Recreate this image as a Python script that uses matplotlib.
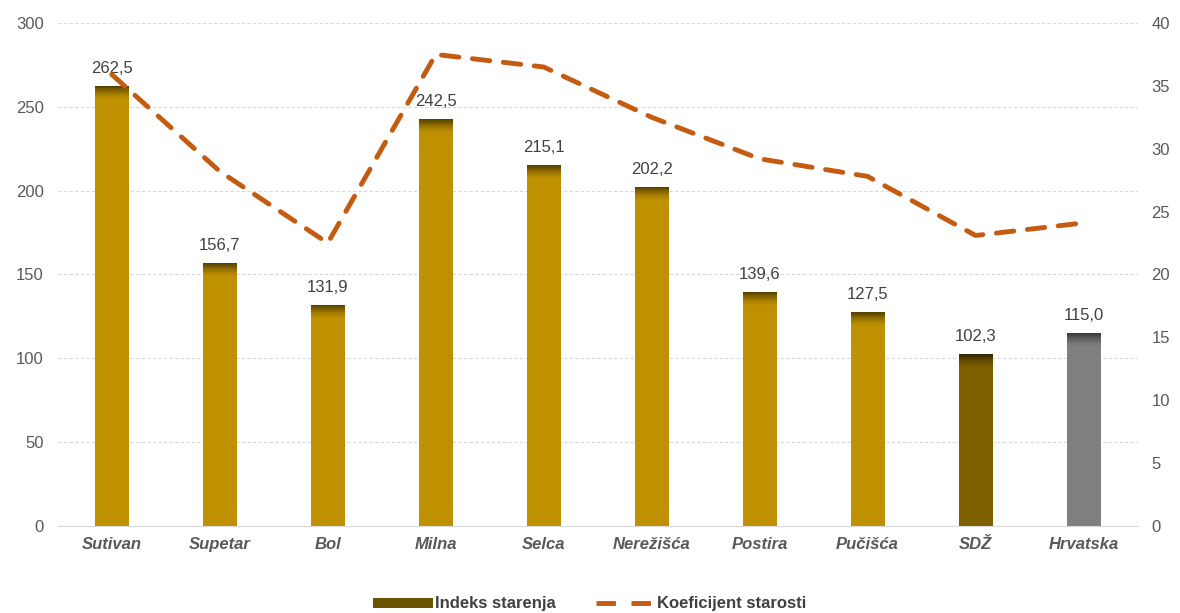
import matplotlib
matplotlib.use("Agg")
import matplotlib.pyplot as plt
from matplotlib.lines import Line2D
from matplotlib.patches import Patch

plt.rcParams["font.family"] = ["Liberation Sans", "DejaVu Sans"]

categories = ["Sutivan", "Supetar", "Bol", "Milna", "Selca", "Nerežišća",
              "Postira", "Pučišća", "SDŽ", "Hrvatska"]
indeks_starenja = [262.5, 156.7, 131.9, 242.5, 215.1, 202.2, 139.6, 127.5, 102.3, 115.0]
koef_starosti = [35.9, 28.2, 22.5, 37.5, 36.5, 32.5, 29.2, 27.8, 23.1, 24.1]
bar_colors = ["#BF9000"] * 8 + ["#7F6000", "#7F7F7F"]
top_colors = ["#4A3A00"] * 8 + ["#2E2300", "#333333"]

fig = plt.figure(figsize=(11.8, 6.13), dpi=100)
ax = fig.add_axes([0.049, 0.142, 0.915, 0.8205])
ax2 = ax.twinx()

x = list(range(len(categories)))
width = 0.315

ax.bar(x, indeks_starenja, width=width, color=bar_colors, zorder=2)
# soft dark shading at the top of each bar (gradient made of thin slices)
cap = 8.0
steps = 16
for i in range(steps):
    frac = (i + 1) / steps
    ax.bar(x, [cap / steps] * len(x),
           bottom=[v - cap + i * cap / steps for v in indeks_starenja],
           width=width, color=top_colors, alpha=0.9 * frac ** 1.5,
           linewidth=0, zorder=3)

for xi, v in zip(x, indeks_starenja):
    ax.text(xi, v + 6, f"{v:.1f}".replace(".", ","), ha="center", va="bottom",
            fontsize=12, color="#404040", zorder=5)

ax.set_ylim(0, 300)
ax.set_yticks(range(0, 301, 50))
ax.set_xlim(-0.5, len(x) - 0.5)
ax.set_xticks(x)
ax.set_xticklabels(categories, fontsize=12, fontweight="bold", fontstyle="italic",
                   color="#595959")
ax.grid(axis="y", color="#D9D9D9", linestyle=(0, (3, 2)), linewidth=0.8, zorder=0)
ax.set_axisbelow(True)

ax2.plot(x, koef_starosti, color="#C55A11", linewidth=3.5,
         linestyle=(0, (3.6, 2.8)), dash_capstyle="round", zorder=4)
ax2.set_ylim(0, 40)
ax2.set_yticks(range(0, 41, 5))

for a in (ax, ax2):
    for s in a.spines.values():
        s.set_visible(False)
    a.tick_params(length=0, labelsize=12, colors="#595959", pad=10)
ax.tick_params(axis="x", pad=8)
ax.spines["bottom"].set_visible(True)
ax.spines["bottom"].set_color("#D9D9D9")

handles = [
    Patch(facecolor="#6B5300", edgecolor="none", label="Indeks starenja"),
    Line2D([0], [0], color="#C55A11", linewidth=3.5, linestyle=(0, (4.0, 3.2)),
           label="Koeficijent starosti"),
]
leg = fig.legend(handles=handles, loc="lower center", bbox_to_anchor=(0.5, -0.022),
                 ncol=2, frameon=False, handlelength=3.6, handleheight=0.55,
                 columnspacing=2.4, handletextpad=0.1,
                 prop={"size": 12, "weight": "bold"})
for t in leg.get_texts():
    t.set_color("#404040")

fig.savefig("out.png", dpi=100)
